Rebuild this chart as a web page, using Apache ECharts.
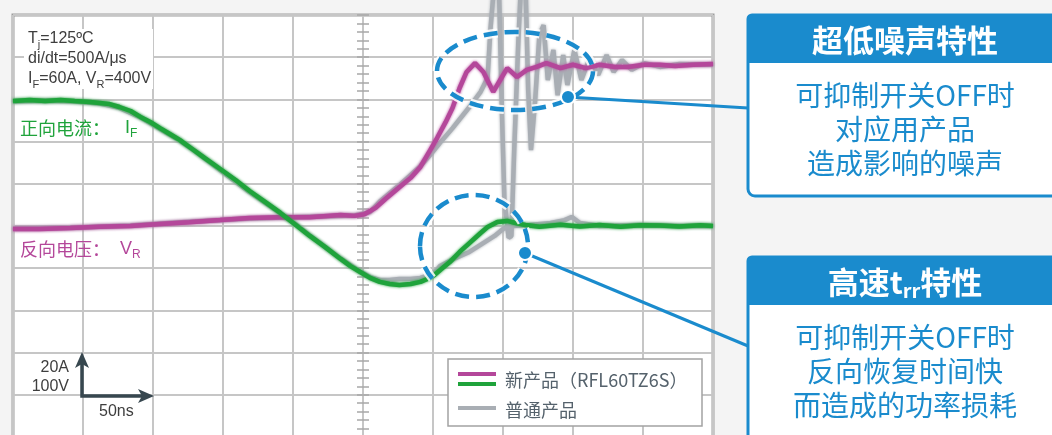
<!DOCTYPE html>
<html>
<head>
<meta charset="utf-8">
<title>RFL60TZ6S 反向恢复波形</title>
<script src="https://cdn.jsdelivr.net/npm/echarts@6/dist/echarts.min.js"></script>
<style>
  html, body { margin: 0; padding: 0; background: #f4f4f4; }
  #chart { width: 1052px; height: 435px; }
</style>
</head>
<body>
<div id="chart"></div>
<script>
// 50ns/div, 20A/div, 100V/div
// 新产品 正向电流 IF
const newIfTime = [-250, -238, -227, -216, -206, -195, -188, -181, -174, -166, -159, -152, -145, -138, -131, -122, -113, -102,
  -91, -81, -70, -59, -48, -38, -27, -16, -9, -2, 5, 12, 19, 26, 34, 41, 46, 51, 56, 62, 69, 76, 84, 89, 96, 103, 109, 116,
  126, 141, 155, 169, 184, 198, 212, 226, 241, 250];
const newIfAmp = [59.2, 59.7, 59.2, 59.7, 59.2, 58.8, 58.3, 57.8, 56.4, 54.5, 51.7, 49.3, 46.4, 43.6, 40.8, 36.5, 32.2, 27.0,
  21.8, 16.6, 11.4, 6.2, 0.5, -4.7, -10.0, -15.6, -19.0, -21.8, -24.6, -26.5, -27.5, -28.0, -27.5, -26.5, -25.1, -23.2,
  -20.4, -17.1, -12.3, -8.1, -3.3, -0.5, 1.9, 2.4, 1.4, 0.5, -0.4, 0.6, -0.2, 0.5, -0.3, 0.4, 0.2, -0.2, 0.3, 0];

// 新产品 反向电压 VR
const newVrTime = [-250, -231, -209, -188, -166, -145, -124, -102, -81, -59, -38, -16, -6, 1, 9, 16, 26, 34, 41, 48, 53, 59,
  64, 69, 74, 80, 86, 93, 98, 103, 110, 117, 124, 131, 141, 150, 159, 169, 180, 189, 201, 212, 223, 236, 250];
const newVrVolt = [-7, -7, -5, -2, 0, 5, 9, 14, 19, 21, 21, 26, 24, 28, 43, 64, 92, 114, 140, 180, 209, 246,
  280, 327, 365, 386, 365, 318, 346, 374, 353, 370, 377, 386, 374, 382, 374, 382, 377, 377, 382, 382, 379, 382, 384];

// 普通产品 IF
const stdIfTime = [-250, -227, -206, -188, -174, -159, -145, -131, -120, -102, -81, -59, -48, -38, -16, -2, 5, 12, 19, 26,
  34, 41, 50, 55, 66, 76, 87, 94, 100, 106, 119, 134, 144, 149, 155, 169, 198, 226, 250];
const stdIfAmp = [59.0, 59.4, 59.0, 58.0, 56.0, 51.5, 46.0, 40.5, 35.5, 26.5, 16.0, 6.0, 0.8, -4.5, -15.4, -21.6, -24.2,
  -25.6, -25.6, -25.1, -25.1, -24.6, -22.7, -19.0, -15.2, -12.3, -7.6, -4.7, -1.4, 0, 0.5, 1.4, 2.8, 4.3, 1.4, 0, 0.5, 0, 0];

// 普通产品 VR (ringing)
const stdVrTime = [-250, -209, -166, -124, -81, -38, -6, 5, 12, 26, 41, 48, 55, 64, 76, 84, 89, 91, 94, 97, 99, 101, 104, 106,
  108, 111, 113, 116, 118, 120, 123, 126, 129, 132, 136, 139, 143, 146, 151, 156, 162, 168, 174, 179, 185, 192, 201, 212,
  226, 250];
const stdVrVolt = [-6, -4, 1, 10, 18, 22, 25, 33, 58, 97, 142, 168, 197, 232, 282, 318, 351, 465, 583, 583, 299, 62, -28, -24,
  180, 441, 583, 583, 322, 180, 299, 453, 476, 346, 417, 310, 405, 334, 417, 346, 398, 358, 405, 365, 393, 370, 386, 377,
  384, 382];

const GREEN = '#1fa33b';
const MAGENTA = '#b4479a';
const GRAY = '#a9aeb4';
const BLUE = '#1a8bcd';
const GRID = '#c6c6c6';
const TICK = '#a8a8a8';
const CJK = '"Noto Sans CJK SC", "Noto Sans", sans-serif';
const LAT = '"Liberation Sans", Arial, sans-serif';

const pairs = (xs, ys) => xs.map((x, i) => [x, ys[i]]);

const trace = (name, yIdx, data, color, z) => ({
  name: name,
  type: 'line',
  yAxisIndex: yIdx,
  data: data,
  showSymbol: false,
  symbol: 'none',
  clip: false,
  z: z,
  lineStyle: { color: color, width: 4.5, shadowColor: color, shadowBlur: 3 },
  emphasis: { disabled: true }
});

// center vertical line ticks: one axis ticks out, the other in
const centerAxis = (min, max, interval, inside, split) => ({
  type: 'value',
  min: min,
  max: max,
  interval: interval,
  position: 'left',
  axisLine: { show: true, onZero: true, onZeroAxisIndex: 0, lineStyle: { color: GRID, width: 2 } },
  axisTick: { show: true, inside: inside, length: 6, lineStyle: { color: TICK, width: 1.5 } },
  minorTick: { show: true, splitNumber: 5, length: 6, lineStyle: { color: TICK, width: 1.5 } },
  axisLabel: { show: false },
  splitLine: { show: split, lineStyle: { color: GRID, width: 2 } }
});

const txt = (x, y, text, font, fill, extra) => Object.assign({
  type: 'text', x: x, y: y, z: 60,
  style: Object.assign({ text: text, font: font, fill: fill, align: 'left', verticalAlign: 'middle',
    textAlign: 'left', textVerticalAlign: 'middle' }, extra || {})
});

const callout = (top, h, title, lines) => {
  const els = [
    { type: 'rect', z: 50, shape: { x: 748, y: top, width: 330, height: h, r: [4, 0, 0, 7] },
      style: { fill: '#fff', stroke: BLUE, lineWidth: 3 } },
    { type: 'rect', z: 51, shape: { x: 748, y: top, width: 330, height: 48, r: [4, 0, 0, 0] },
      style: { fill: BLUE } },
    { type: 'text', z: 52, x: 905, y: top + 25,
      style: { text: title.text, rich: title.rich, fill: '#fff', font: 'bold 31px ' + CJK,
        align: 'center', verticalAlign: 'middle', textAlign: 'center', textVerticalAlign: 'middle' } }
  ];
  lines.forEach((s, i) => {
    els.push({ type: 'text', z: 52, x: 905, y: top + 80 + i * 34,
      style: { text: s, fill: BLUE, font: '28px ' + CJK, align: 'center', verticalAlign: 'middle',
        textAlign: 'center', textVerticalAlign: 'middle' } });
  });
  return els;
};

const dashedRing = (cx, cy, rx, ry) => [
  { type: 'ellipse', z: 70, shape: { cx: cx, cy: cy, rx: rx, ry: ry },
    style: { fill: 'none', stroke: '#fff', lineWidth: 9, lineDash: [14, 7], opacity: 0.85 } },
  { type: 'ellipse', z: 71, shape: { cx: cx, cy: cy, rx: rx, ry: ry },
    style: { fill: 'none', stroke: BLUE, lineWidth: 4.5, lineDash: [14, 7] } }
];

const leader = (x1, y1, x2, y2) => [
  { type: 'line', z: 72, shape: { x1: x1, y1: y1, x2: x2, y2: y2 }, style: { stroke: BLUE, lineWidth: 3 } },
  { type: 'circle', z: 73, shape: { cx: x1, cy: y1, r: 7 }, style: { fill: BLUE, stroke: '#fff', lineWidth: 2 } }
];

const graphics = [].concat(
  [
    { type: 'rect', z: 5, shape: { x: 24, y: 29, width: 129, height: 60 }, style: { fill: '#fff' } },
    txt(28, 39, '{m|T}{s|j}{m|=125ºC}', '16px ' + LAT, '#3e3e3e', {
      rich: { m: { font: '16px ' + LAT, lineHeight: 22 }, s: { font: '11px ' + LAT, lineHeight: 12, verticalAlign: 'bottom' } } }),
    txt(28, 59, 'di/dt=500A/μs', '16px ' + LAT, '#3e3e3e'),
    txt(28, 79, '{m|I}{s|F}{m|=60A, V}{s|R}{m|=400V}', '16px ' + LAT, '#3e3e3e', {
      rich: { m: { font: '16px ' + LAT, lineHeight: 22 }, s: { font: '11px ' + LAT, lineHeight: 12, verticalAlign: 'bottom' } } }),
    txt(20, 128, '{c|正向电流：}{m|   I}{s|F}', '18px ' + CJK, GREEN, {
      rich: { c: { font: '18px ' + CJK, lineHeight: 24 }, m: { font: '18px ' + LAT, lineHeight: 24 },
        s: { font: '12px ' + LAT, lineHeight: 14, verticalAlign: 'bottom' } } }),
    txt(20, 249, '{c|反向电压：}{m|  V}{s|R}', '18px ' + CJK, MAGENTA, {
      rich: { c: { font: '18px ' + CJK, lineHeight: 24 }, m: { font: '18px ' + LAT, lineHeight: 24 },
        s: { font: '12px ' + LAT, lineHeight: 14, verticalAlign: 'bottom' } } }),
    // scale arrows
    { type: 'polyline', z: 60, shape: { points: [[82, 362], [82, 396], [144, 396]] },
      style: { fill: 'none', stroke: '#37474f', lineWidth: 3.5 } },
    { type: 'polygon', z: 60, shape: { points: [[82, 352], [75, 368], [82, 364], [89, 368]] }, style: { fill: '#37474f' } },
    { type: 'polygon', z: 60, shape: { points: [[154, 396], [138, 389], [142, 396], [138, 403]] }, style: { fill: '#37474f' } },
    txt(69, 368, '20A', '16px ' + LAT, '#3e3e3e', { align: 'right', textAlign: 'right' }),
    txt(69, 387, '100V', '16px ' + LAT, '#3e3e3e', { align: 'right', textAlign: 'right' }),
    txt(99, 412, '50ns', '16px ' + LAT, '#3e3e3e'),
    // legend
    { type: 'rect', z: 60, shape: { x: 448, y: 359, width: 254, height: 67 },
      style: { fill: '#fff', stroke: '#a3a3a3', lineWidth: 1.5 } },
    { type: 'line', z: 61, shape: { x1: 458, y1: 374, x2: 496, y2: 374 }, style: { stroke: MAGENTA, lineWidth: 4 } },
    { type: 'line', z: 61, shape: { x1: 458, y1: 384, x2: 496, y2: 384 }, style: { stroke: GREEN, lineWidth: 4 } },
    { type: 'line', z: 61, shape: { x1: 458, y1: 408, x2: 496, y2: 408 }, style: { stroke: GRAY, lineWidth: 4 } },
    txt(505, 380, '新产品（RFL60TZ6S）', '18px ' + CJK, '#55626c'),
    txt(505, 410, '普通产品', '18px ' + CJK, '#55626c')
  ],
  dashedRing(515, 71, 78, 39),
  dashedRing(474, 246, 54, 51),
  leader(568, 97, 748, 108),
  leader(525, 253, 748, 346),
  callout(15, 181, { text: '超低噪声特性' }, ['可抑制开关OFF时', '对应用产品', '造成影响的噪声']),
  callout(257, 200, {
    text: '{h|高速t}{s|rr}{h|特性}',
    rich: { h: { font: 'bold 31px ' + CJK, fill: '#fff', lineHeight: 36 },
      s: { font: 'bold 20px ' + CJK, fill: '#fff', lineHeight: 14, verticalAlign: 'bottom' } }
  }, ['可抑制开关OFF时', '反向恢复时间快', '而造成的功率损耗'])
);

const chart = echarts.init(document.getElementById('chart'), null, { renderer: 'canvas' });
chart.setOption({
  animation: false,
  backgroundColor: '#f4f4f4',
  grid: {
    left: 13, top: 15, width: 700, height: 422,
    show: true, backgroundColor: '#fff', borderColor: '#9d9d9d', borderWidth: 3,
    containLabel: false, outerBoundsMode: 'none'
  },
  xAxis: {
    type: 'value', min: -250, max: 250, interval: 50,
    axisLine: { show: false }, axisTick: { show: false }, axisLabel: { show: false },
    splitLine: { show: true, lineStyle: { color: GRID, width: 2 } }
  },
  yAxis: [
    centerAxis(-100, 100, 20, false, true),
    centerAxis(-500, 500, 100, true, false)
  ],
  series: [
    trace('普通产品 VR', 1, pairs(stdVrTime, stdVrVolt), GRAY, 2),
    trace('普通产品 IF', 0, pairs(stdIfTime, stdIfAmp), GRAY, 2),
    trace('新产品 VR', 1, pairs(newVrTime, newVrVolt), MAGENTA, 3),
    trace('新产品 IF', 0, pairs(newIfTime, newIfAmp), GREEN, 4)
  ],
  graphic: { elements: graphics }
});
</script>
</body>
</html>
